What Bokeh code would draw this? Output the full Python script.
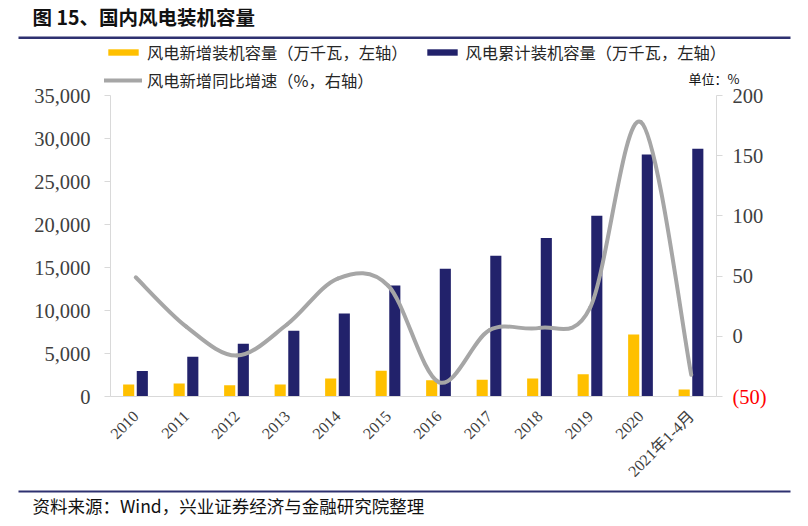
import numpy as np
from bokeh.plotting import figure
from bokeh.layouts import column
from bokeh.models import (Range1d, LinearAxis, FixedTicker, NumeralTickFormatter,
                          Legend, LegendItem)
from bokeh.transform import dodge
from bokeh.embed import file_html
from bokeh.resources import INLINE
from bokeh.core.properties import value

categories = ["2010", "2011", "2012", "2013", "2014", "2015", "2016", "2017",
              "2018", "2019", "2020", "2021年1-4月"]
new_capacity = [1400, 1500, 1300, 1400, 2100, 3000, 1900, 1950, 2100, 2600, 7200, 800]
cum_capacity = [2958, 4623, 6142, 7652, 9657, 12900, 14864, 16367, 18426, 21005, 28153, 28800]
growth_pct = [49, 8, -16, 10, 48, 42, -38, 5, 7, 24, 178, -32]
left_ticks = [0, 5000, 10000, 15000, 20000, 25000, 30000, 35000]
right_ticks = [0, 50, 100, 150, 200]
neg_tick = [-50]
title_text = "图 15、国内风电装机容量"
source_text = "资料来源：Wind，兴业证券经济与金融研究院整理"
unit_text = "单位：%"
legend_labels = ["风电新增装机容量（万千瓦，左轴）", "风电累计装机容量（万千瓦，左轴）",
                 "风电新增同比增速（%，右轴）"]

YELLOW = "#FFC000"
NAVY = "#22226B"
GREY = "#A6A6A6"
RULE = "#2E3170"
AXIS = "#D9D9D9"
TICKTXT = "#404040"
CJK = "Noto Sans CJK SC"
SERIF = "Liberation Serif, Noto Sans CJK SC"
NAN = float("nan")

W = 808
H_HEAD, H_MAIN, H_FOOT = 92, 408, 38
OVERLAP = 12
n = len(categories)
xs = list(range(n))


def no_align(f):
    if "frame_align" in f.properties():
        f.frame_align = False
    return f


def blank(h):
    f = figure(width=W, height=h, output_backend="svg", toolbar_location=None,
               x_range=Range1d(0, W), y_range=Range1d(0, h),
               x_axis_type=None, y_axis_type=None,
               min_border=0, min_border_left=0, min_border_right=0,
               min_border_top=0, min_border_bottom=0)
    f.xgrid.visible = False
    f.ygrid.visible = False
    f.outline_line_color = None
    f.background_fill_color = "white"
    f.border_fill_color = "white"
    return no_align(f)


def style_legend(lg):
    lg.padding = 0
    lg.margin = 0
    lg.spacing = 15
    lg.glyph_width = 38
    lg.glyph_height = 8
    lg.label_height = 16
    lg.label_standoff = 5
    lg.border_line_color = None
    lg.background_fill_alpha = 0
    lg.label_text_font = CJK
    lg.label_text_font_size = "16.3px"
    lg.label_text_color = "#262626"

# ---------------- header: title, rule, legend, unit ----------------
head = blank(H_HEAD)
head.text(x=[32], y=[H_HEAD - 16], text=[title_text], text_font=value(CJK),
          text_font_size="19.5px", text_font_style="bold", text_color="#111111",
          text_baseline="middle", text_align="left")
head.quad(left=[18], right=[790], bottom=[H_HEAD - 38.5], top=[H_HEAD - 36],
          fill_color=RULE, line_color=None)
head.text(x=[688], y=[H_HEAD - 78], text=[unit_text], text_font=value(CJK),
          text_font_size="13px", text_color="#111111", text_baseline="middle",
          text_align="left")
# legend key renderers (NaN data: nothing is drawn, only the key styles are used)
k_new = head.vbar(x=[NAN], top=[NAN], width=1, fill_color=YELLOW, line_color=None)
k_cum = head.vbar(x=[NAN], top=[NAN], width=1, fill_color=NAVY, line_color=None)
k_line = head.line(x=[NAN], y=[NAN], line_color=GREY, line_width=4, line_cap="round")
leg1 = Legend(items=[LegendItem(label=legend_labels[0], renderers=[k_new]),
                     LegendItem(label=legend_labels[1], renderers=[k_cum])],
              orientation="horizontal", location=(104, H_HEAD - 64))
leg2 = Legend(items=[LegendItem(label=legend_labels[2], renderers=[k_line])],
              orientation="horizontal", location=(104, H_HEAD - 92))
for lg in (leg1, leg2):
    style_legend(lg)
    head.add_layout(lg)

# ---------------- main chart ----------------
p = figure(width=W, height=H_MAIN, output_backend="svg", toolbar_location=None,
           x_range=Range1d(-0.5, n - 0.5), y_range=Range1d(0, 35000),
           min_border_left=110, min_border_right=W - 716, min_border_top=15,
           min_border_bottom=92, margin=(-OVERLAP, 0, 0, 0))
no_align(p)
p.extra_y_ranges = {"pct": Range1d(-50, 200)}
p.outline_line_color = None
p.xgrid.visible = False
p.ygrid.visible = False
p.background_fill_color = "white"
p.border_fill_alpha = 0

src = dict(x=xs, new=new_capacity, cum=cum_capacity)
p.vbar(x=dodge("x", -0.14, range=p.x_range), top="new", width=0.22, source=src,
       fill_color=YELLOW, line_color=None)
p.vbar(x=dodge("x", 0.13, range=p.x_range), top="cum", width=0.22, source=src,
       fill_color=NAVY, line_color=None)

# smoothed line: Bezier segments through the data points (Catmull-Rom tangents)
x0, y0, x1, y1, cx0, cy0, cx1, cy1 = [], [], [], [], [], [], [], []
for i in range(n - 1):
    a = max(i - 1, 0)
    b = min(i + 2, n - 1)
    x0.append(xs[i]); y0.append(growth_pct[i])
    x1.append(xs[i + 1]); y1.append(growth_pct[i + 1])
    cx0.append(xs[i] + (xs[i + 1] - xs[a]) / 6.0)
    cy0.append(growth_pct[i] + (growth_pct[i + 1] - growth_pct[a]) / 6.0)
    cx1.append(xs[i + 1] - (xs[b] - xs[i]) / 6.0)
    cy1.append(growth_pct[i + 1] - (growth_pct[b] - growth_pct[i]) / 6.0)
p.bezier(x0=x0, y0=y0, x1=x1, y1=y1, cx0=cx0, cy0=cy0, cx1=cx1, cy1=cy1,
         line_color=GREY, line_width=4, line_cap="round", y_range_name="pct")

ya = p.yaxis[0]
ya.ticker = FixedTicker(ticks=left_ticks)
ya.formatter = NumeralTickFormatter(format="0,0")
ya.axis_line_color = AXIS
ya.major_tick_line_color = AXIS
ya.major_tick_out = 6
ya.major_tick_in = 0
ya.minor_tick_line_color = None
ya.major_label_text_font = SERIF
ya.major_label_text_font_size = "20.5px"
ya.major_label_text_color = TICKTXT
ya.major_label_standoff = 14

ra = LinearAxis(y_range_name="pct", ticker=FixedTicker(ticks=right_ticks + neg_tick))
ra.major_label_overrides = {-50: ""}
ra.axis_line_color = AXIS
ra.major_tick_line_color = AXIS
ra.major_tick_out = 6
ra.major_tick_in = 0
ra.minor_tick_line_color = None
ra.major_label_text_font = SERIF
ra.major_label_text_font_size = "20.5px"
ra.major_label_text_color = TICKTXT
ra.major_label_standoff = 10
p.add_layout(ra, "right")

# red "(50)" label of the negative right-axis tick, drawn by a second right axis
ra_neg = LinearAxis(y_range_name="pct", ticker=FixedTicker(ticks=neg_tick),
                    major_label_overrides={-50: "(50)"})
ra_neg.axis_line_color = None
ra_neg.major_tick_line_color = None
ra_neg.major_tick_out = 0
ra_neg.major_tick_in = 0
ra_neg.minor_tick_line_color = None
ra_neg.major_label_text_font = SERIF
ra_neg.major_label_text_font_size = "20.5px"
ra_neg.major_label_text_color = "#FF0000"
ra_neg.major_label_standoff = -34
p.add_layout(ra_neg, "right")

xa = p.xaxis[0]
xa.ticker = FixedTicker(ticks=xs)
xa.major_label_overrides = {i: c for i, c in enumerate(categories)}
xa.axis_line_color = AXIS
xa.major_tick_line_color = None
xa.minor_tick_line_color = None
xa.major_label_orientation = np.pi / 4
xa.major_label_text_font = SERIF
xa.major_label_text_font_size = "16px"
xa.major_label_text_color = TICKTXT
xa.major_label_standoff = 11

# ---------------- footer ----------------
foot = blank(H_FOOT)
foot.quad(left=[18], right=[790], bottom=[H_FOOT - 4], top=[H_FOOT - 2],
          fill_color=RULE, line_color=None)
foot.text(x=[32], y=[H_FOOT - 17], text=[source_text], text_font=value(CJK),
          text_font_size="17.5px", text_color="#111111", text_baseline="middle",
          text_align="left")

layout = column(head, p, foot, spacing=0)
open("out.html", "w").write(file_html(layout, INLINE))
